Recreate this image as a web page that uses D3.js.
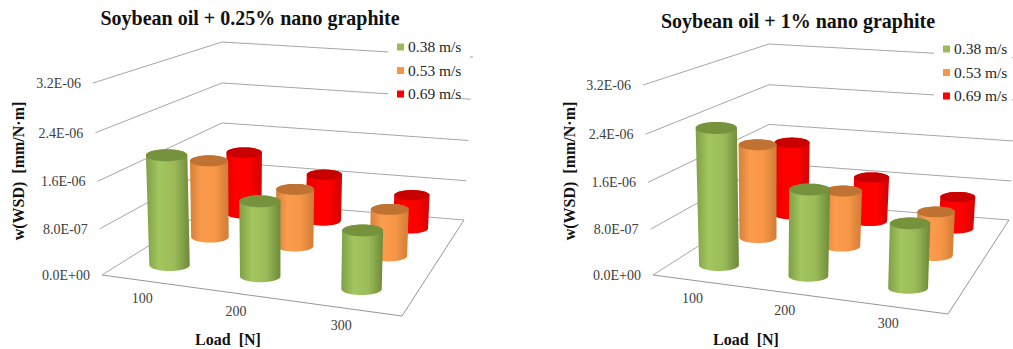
<!DOCTYPE html>
<html>
<head>
<meta charset="utf-8">
<script src="https://cdn.jsdelivr.net/npm/d3@7"></script>
<style>
    body { margin: 0; background: #fff; }
    svg { display: block; }
    text { font-family: "Liberation Serif", serif; white-space: pre; }
</style>
</head>
<body>
<div id="chart"></div>
<script>
let loads = ["100", "200", "300"];
let speeds = ["0.38 m/s", "0.53 m/s", "0.69 m/s"];
let tickValues = [0, 8e-7, 1.6e-6, 2.4e-6, 3.2e-6];
let tickLabels = ["0.0E+00", "8.0E-07", "1.6E-06", "2.4E-06", "3.2E-06"];

// wear rate per load
let quarterPct038 = [1.92e-6, 1.30e-6, 1.00e-6];
let quarterPct053 = [1.44e-6, 1.06e-6, 0.86e-6];
let quarterPct069 = [1.23e-6, 0.92e-6, 0.66e-6];

let onePct038 = [2.40e-6, 1.50e-6, 1.10e-6];
let onePct053 = [1.76e-6, 1.04e-6, 0.81e-6];
let onePct069 = [1.45e-6, 0.88e-6, 0.63e-6];

let colors = [
    {side: ["#7f9f46", "#a3c65e", "#9bbb59", "#6d8a38"], top: "#76923c"},
    {side: ["#d58038", "#fb9c4e", "#f79646", "#d07c36"], top: "#bf7232"},
    {side: ["#e60000", "#ff0000", "#ff0000", "#d40000"], top: "#c80000"}
];

let svg = d3.select("#chart").append("svg")
    .attr("width", 1013)
    .attr("height", 349);

let defs = svg.append("defs");
colors.forEach(function(c, i) {
    let grad = defs.append("linearGradient").attr("id", "side" + i);
    [0, 0.3, 0.65, 1].forEach(function(o, j) {
        grad.append("stop").attr("offset", o).attr("stop-color", c.side[j]);
    });
});

// unit square -> quad, perspective
function quadMap(p0, p1, p2, p3) {
    let sx = p0[0] - p1[0] + p2[0] - p3[0];
    let sy = p0[1] - p1[1] + p2[1] - p3[1];
    let dx1 = p1[0] - p2[0], dx2 = p3[0] - p2[0];
    let dy1 = p1[1] - p2[1], dy2 = p3[1] - p2[1];
    let den = dx1 * dy2 - dx2 * dy1;
    let g = (sx * dy2 - dx2 * sy) / den;
    let h = (dx1 * sy - sx * dy1) / den;
    let a = p1[0] - p0[0] + g * p1[0];
    let b = p3[0] - p0[0] + h * p3[0];
    let d = p1[1] - p0[1] + g * p1[1];
    let e = p3[1] - p0[1] + h * p3[1];
    return function(u, v) {
        let w = g * u + h * v + 1;
        return [(a * u + b * v + p0[0]) / w, (d * u + e * v + p0[1]) / w];
    };
}

function drawPanel(cfg) {
    let g = svg.append("g");

    let floor = quadMap(cfg.floor[0], cfg.floor[1], cfg.floor[2], cfg.floor[3]);
    let ceil = quadMap(cfg.top[0], cfg.top[1], cfg.top[2], cfg.top[3]);

    let xBand = d3.scaleBand().domain(loads).range([0, 1]);
    let zBand = d3.scaleBand().domain(speeds).range([0, 1]);
    let yScale = d3.scaleLinear().domain([0, 3.2e-6]).range([0, 1]);

    function project(u, v, value) {
        let t = yScale(value);
        t = t / (t + (1 - t) * 1.05);
        let a = floor(u, v), b = ceil(u, v);
        return [a[0] + (b[0] - a[0]) * t, a[1] + (b[1] - a[1]) * t];
    }

    let line = d3.line();

    // walls
    tickValues.forEach(function(t, i) {
        g.append("path")
            .attr("d", line([project(0, 0, t), project(0, 1, t), project(1, 1, t)]))
            .attr("fill", "none")
            .attr("stroke", "#a6a6a6")
            .attr("stroke-width", 1);

        let end = project(0, 0, t);
        g.append("text")
            .attr("x", end[0] - 12)
            .attr("y", end[1])
            .attr("dy", "0.35em")
            .attr("text-anchor", "end")
            .attr("fill", "#404040")
            .style("font-size", "14px")
            .text(tickLabels[i]);
    });

    // floor front edges
    g.append("path")
        .attr("d", line([project(0, 0, 0), project(1, 0, 0), project(1, 1, 0)]))
        .attr("fill", "none")
        .attr("stroke", "#969696")
        .attr("stroke-width", 1);

    // legend box hides the wall lines behind it
    g.append("rect")
        .attr("x", cfg.legendX - 9)
        .attr("y", cfg.legendY - 11)
        .attr("width", cfg.legendW)
        .attr("height", 62)
        .attr("fill", "#fff");

    speeds.forEach(function(s, i) {
        let y = cfg.legendY + i * 23.5;
        g.append("rect")
            .attr("x", cfg.legendX)
            .attr("y", y - 3.5)
            .attr("width", 7)
            .attr("height", 7)
            .attr("fill", colors[i].side[2]);
        g.append("text")
            .attr("x", cfg.legendX + 11)
            .attr("y", y)
            .attr("dy", "0.35em")
            .attr("fill", "#262626")
            .style("font-size", "15.5px")
            .text(s);
    });

    // cylinders, back row first
    for (let s = speeds.length - 1; s >= 0; s--) {
        loads.forEach(function(load, i) {
            let u = xBand(load) + xBand.bandwidth() / 2 + 0.005;
            let v = zBand(speeds[s]) + zBand.bandwidth() / 2;
            let value = cfg.values[s][i];

            // ends stay level on screen, radius depends on depth only
            function ring(val) {
                let c = project(u, v, val);
                let l = project(0.43, v, val), r = project(0.57, v, val);
                let rx = Math.hypot(r[0] - l[0], r[1] - l[1]) / 2;
                return d3.range(48).map(function(k) {
                    let a = k / 48 * 2 * Math.PI;
                    return [c[0] + rx * Math.cos(a), c[1] + rx * 0.29 * Math.sin(a)];
                });
            }

            let cap = ring(value);
            let hull = d3.polygonHull(ring(0).concat(cap));
            g.append("path")
                .attr("d", "M" + hull.join("L") + "Z")
                .attr("fill", "url(#side" + s + ")");
            g.append("path")
                .attr("d", "M" + cap.join("L") + "Z")
                .attr("fill", colors[s].top);
        });
    }

    // category labels along the front edge
    loads.forEach(function(load) {
        let p = project(xBand(load) + xBand.bandwidth() / 2, 0, 0);
        g.append("text")
            .attr("x", p[0] - 3)
            .attr("y", p[1] + 17)
            .attr("dy", "0.35em")
            .attr("text-anchor", "middle")
            .attr("fill", "#404040")
            .style("font-size", "14px")
            .text(load);
    });

    g.append("text")
        .attr("x", cfg.titleX)
        .attr("y", cfg.titleY)
        .attr("text-anchor", "middle")
        .attr("fill", "#111")
        .style("font-size", "20px")
        .style("font-weight", "bold")
        .text(cfg.title);

    g.append("text")
        .attr("x", cfg.loadX)
        .attr("y", 345)
        .attr("text-anchor", "middle")
        .attr("fill", "#111")
        .style("font-size", "16px")
        .style("font-weight", "bold")
        .text("Load  [N]");

    g.append("text")
        .attr("transform", "translate(" + cfg.yTitleX + ",171) rotate(-90)")
        .attr("text-anchor", "middle")
        .attr("fill", "#111")
        .style("font-size", "16px")
        .style("font-weight", "bold")
        .text("w(WSD)  [mm/N\u00b7m]");
}

drawPanel({
    title: "Soybean oil + 0.25% nano graphite",
    titleX: 250, titleY: 25,
    loadX: 228, yTitleX: 24,
    legendX: 397, legendY: 47, legendW: 82,
    floor: [[102, 275], [402, 316], [464, 220], [222, 200]],
    top: [[93, 83], [407, 111], [473, 57], [222, 42]],
    values: [quarterPct038, quarterPct053, quarterPct069]
});

drawPanel({
    title: "Soybean oil + 1% nano graphite",
    titleX: 798, titleY: 28,
    loadX: 746, yTitleX: 575,
    legendX: 943, legendY: 49, legendW: 78,
    floor: [[653, 275], [948, 314], [1009, 220], [769, 201]],
    top: [[643, 85], [953, 108], [1019, 58], [769, 44]],
    values: [onePct038, onePct053, onePct069]
});
</script>
</body>
</html>
